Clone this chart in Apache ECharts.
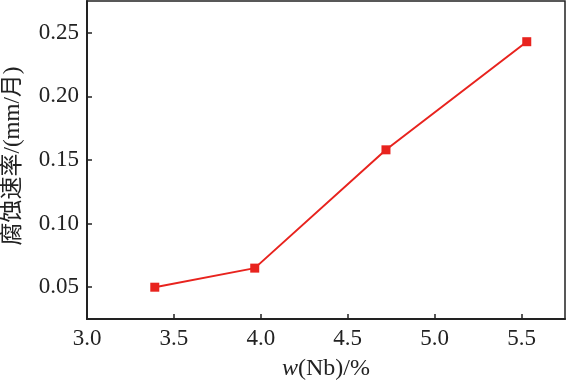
<!DOCTYPE html>
<html>
<head>
<meta charset="utf-8">
<script src="https://cdn.jsdelivr.net/npm/echarts@6/dist/echarts.min.js"></script>
<style>html,body{margin:0;padding:0;background:#fff}#c{width:566px;height:382px}</style>
</head>
<body>
<div id="c"></div>
<script>
const nbContent = [3.39, 3.965, 4.72, 5.53];
const corrosionRate = [0.050, 0.065, 0.158, 0.243];
const xTicks = [3.0, 3.5, 4.0, 4.5, 5.0, 5.5];
const yTicks = [0.05, 0.10, 0.15, 0.20, 0.25];

const chart = echarts.init(document.getElementById('c'), null, {renderer: 'canvas'});
const serif = '"Liberation Serif", "Times New Roman", serif';
const cjk = '"Liberation Serif", "Noto Sans CJK SC", serif';
chart.setOption({
  animation: false,
  backgroundColor: '#fff',
  grid: {left: 87, right: 1, top: 1, bottom: 63, outerBoundsMode: 'none', containLabel: false,
    show: true, borderColor: '#222', borderWidth: 1.5},
  xAxis: {
    type: 'value', min: 3.0, max: 5.75,
    name: '{i|w}(Nb)/%', nameLocation: 'middle', nameGap: 38,
    nameTextStyle: {fontFamily: serif, fontSize: 24, color: '#222',
      rich: {i: {fontFamily: serif, fontStyle: 'italic', fontSize: 24, color: '#222'}}},
    axisLine: {lineStyle: {color: '#222', width: 2}},
    axisTick: {inside: true, length: 5, customValues: xTicks, lineStyle: {color: '#222', width: 1.5}},
    axisLabel: {customValues: xTicks, fontFamily: serif, fontSize: 23, color: '#222', margin: 8,
      formatter: v => v.toFixed(1)},
    splitLine: {show: false}
  },
  yAxis: {
    type: 'value', min: 0.025, max: 0.275,
    name: '腐蚀速率/(mm/月)', nameLocation: 'middle', nameGap: 63, nameRotate: 90,
    nameTextStyle: {fontFamily: cjk, fontSize: 23, color: '#222', padding: [0, 0, 0, 8]},
    axisLine: {lineStyle: {color: '#222', width: 2}},
    axisTick: {inside: true, length: 5, customValues: yTicks, lineStyle: {color: '#222', width: 1.5}},
    axisLabel: {customValues: yTicks, fontFamily: serif, fontSize: 23, color: '#222', margin: 8,
      formatter: v => v.toFixed(2)},
    splitLine: {show: false}
  },
  series: [{
    type: 'line',
    data: nbContent.map((x, i) => [x, corrosionRate[i]]),
    symbol: 'rect', symbolSize: 9,
    lineStyle: {color: '#e8231e', width: 2},
    itemStyle: {color: '#e8231e'}
  }]
});
</script>
</body>
</html>
